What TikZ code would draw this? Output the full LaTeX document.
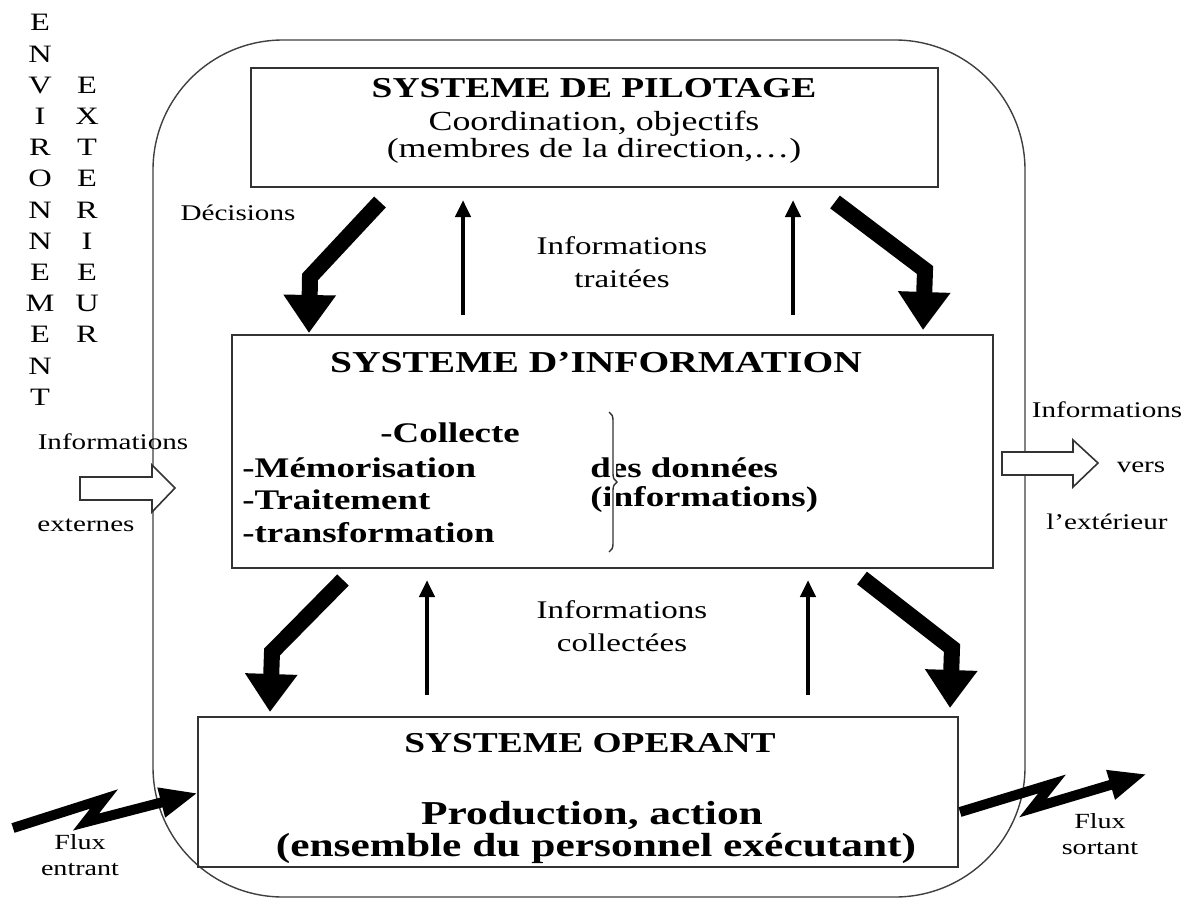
\documentclass[tikz,border=0pt]{standalone}
\usepackage{fontspec}
\setmainfont{Liberation Serif}[FakeStretch=1.3]
\usetikzlibrary{arrows.meta,decorations.pathreplacing}
\begin{document}
\begin{tikzpicture}[x=0.5pt,y=-0.5pt,
  box/.style={draw=black!80,line width=1pt,inner sep=0,fill=none},
  lbl/.style={inner sep=0,font=\fontsize{11.2}{13}\selectfont},
  mid/.style={inner sep=0,align=center,font=\fontsize{12.7}{16.5}\selectfont},
  env/.style={inner sep=0,align=center,font=\fontsize{12.5}{15.6}\selectfont},
  hdr/.style={inner sep=0,font=\bfseries\fontsize{14.4}{17}\selectfont},
  sub/.style={inner sep=0,font=\fontsize{13.8}{16}\selectfont},
  item/.style={inner sep=0,anchor=west,font=\bfseries\fontsize{14.2}{17}\selectfont},
  opb/.style={inner sep=0,font=\bfseries\fontsize{16.7}{19}\selectfont},
  thickarrow/.style={line width=8pt,line join=miter,-{Triangle[length=19pt,width=25pt]}},
  thinarrow/.style={line width=2.2pt,-{Triangle[length=8.5pt,width=7.5pt]}},
  bolt/.style={line width=5pt,line join=miter,miter limit=4,-{Triangle[length=19pt,width=14pt]}},
  hollow/.style={draw=black!80,line width=0.8pt,fill=white}]
\useasboundingbox (0,0) rectangle (1188,904);
\fill[white] (0,0) rectangle (1188,904);
% outer rounded frame
\draw[black!75,line width=0.7pt,rounded corners=65pt] (153,40) rectangle (1025,897);
% boxes
\node[box,minimum width=343.5pt,minimum height=59.5pt] (pil) at (594.5,127.5) {};
\node[box,minimum width=380.5pt,minimum height=116.5pt] (si) at (612.5,451.5) {};
\node[box,minimum width=380pt,minimum height=75pt] (op) at (578,792) {};
% environment letters
\node[env] (env1) at (40,210) {E\\N\\V\\I\\R\\O\\N\\N\\E\\M\\E\\N\\T};
\node[env] (env2) at (87,210) {E\\X\\T\\E\\R\\I\\E\\U\\R};
% pilotage texts
\node[hdr] (pilh) at (594,88) {SYSTEME DE PILOTAGE};
\node[sub] (pil1) at (594,124) {Coordination, objectifs};
\node[sub] (pil2) at (594,151) {(membres de la direction,\dots)};
% SI texts
\node[hdr,font=\bfseries\fontsize{15.2}{18}\selectfont] (sih) at (596,363) {SYSTEME D’INFORMATION};
\node[item] (si1) at (380,433) {-Collecte};
\node[item] (si2) at (242,468) {-Mémorisation};
\node[item] (si3) at (242,500) {-Traitement};
\node[item] (si4) at (242,533) {-transformation};
\node[item] (si5) at (590,468) {des données};
\node[item] (si6) at (590,500) {(informations)};
\coordinate (bt) at (609,412);
\coordinate (bb) at (609,552);
\draw[white,line width=3pt,decorate,decoration={brace,amplitude=4pt}] (bt) -- (bb);
\draw[black!80,line width=0.7pt,decorate,decoration={brace,amplitude=4pt}] (bt) -- (bb);
% operant texts
\node[hdr] (oph) at (590,743) {SYSTEME OPERANT};
\node[opb] (op1) at (592,815) {Production, action};
\node[opb] (op2) at (596,848) {(ensemble du personnel exécutant)};
% labels
\node[lbl] (dec) at (238,213) {Décisions};
\node[mid] (itr) at (622,262) {Informations\\traitées};
\node[mid] (ico) at (622,626) {Informations\\collectées};
\node[lbl] (ie1) at (113,442) {Informations};
\node[lbl] (ie2) at (86,525) {externes};
\node[lbl] (ix1) at (1107,410) {Informations};
\node[lbl] (ix2) at (1141,467) {vers};
\node[lbl] (ix3) at (1107,522) {l’extérieur};
\node[lbl,align=center,font=\fontsize{10.8}{13}\selectfont] (fe) at (80,855) {Flux\\entrant};
\node[lbl,align=center,font=\fontsize{10.8}{13}\selectfont] (fs) at (1100,834) {Flux\\sortant};
% thick decision arrows
\coordinate (a1s) at (380,202); \coordinate (a1b) at (310,277); \coordinate (a1t) at (309,333);
\coordinate (a2s) at (835,202); \coordinate (a2b) at (925,270); \coordinate (a2t) at (923,330);
\coordinate (a3s) at (343,580); \coordinate (a3b) at (272,652); \coordinate (a3t) at (270,712);
\coordinate (a4s) at (862,578); \coordinate (a4b) at (952,648); \coordinate (a4t) at (950,708);
\draw[thickarrow] (a1s) -- (a1b) -- (a1t);
\draw[thickarrow] (a2s) -- (a2b) -- (a2t);
\draw[thickarrow] (a3s) -- (a3b) -- (a3t);
\draw[thickarrow] (a4s) -- (a4b) -- (a4t);
% thin information arrows
\coordinate (u1s) at (463,315); \coordinate (u1t) at (463,200);
\coordinate (u2s) at (793,315); \coordinate (u2t) at (793,200);
\coordinate (u3s) at (427,695); \coordinate (u3t) at (427,580);
\coordinate (u4s) at (808,695); \coordinate (u4t) at (808,580);
\draw[thinarrow] (u1s) -- (u1t);
\draw[thinarrow] (u2s) -- (u2t);
\draw[thinarrow] (u3s) -- (u3t);
\draw[thinarrow] (u4s) -- (u4t);
% hollow arrows
\draw[hollow] (80,477) -- (152,477) -- (152,465) -- (175,488) -- (152,512) -- (152,500) -- (80,500) -- cycle;
\draw[hollow] (1002,452) -- (1073,452) -- (1073,440) -- (1098,463) -- (1073,487) -- (1073,475) -- (1002,475) -- cycle;
% flux bolts
\coordinate (f1s) at (13,828); \coordinate (f1t) at (198,793);
\coordinate (f2s) at (960,812); \coordinate (f2t) at (1147,774);
\draw[bolt] (f1s) -- (104,799) -- (86,822) -- (f1t);
\draw[bolt] (f2s) -- (1052,784) -- (1033,808) -- (f2t);
\end{tikzpicture}
\end{document}
